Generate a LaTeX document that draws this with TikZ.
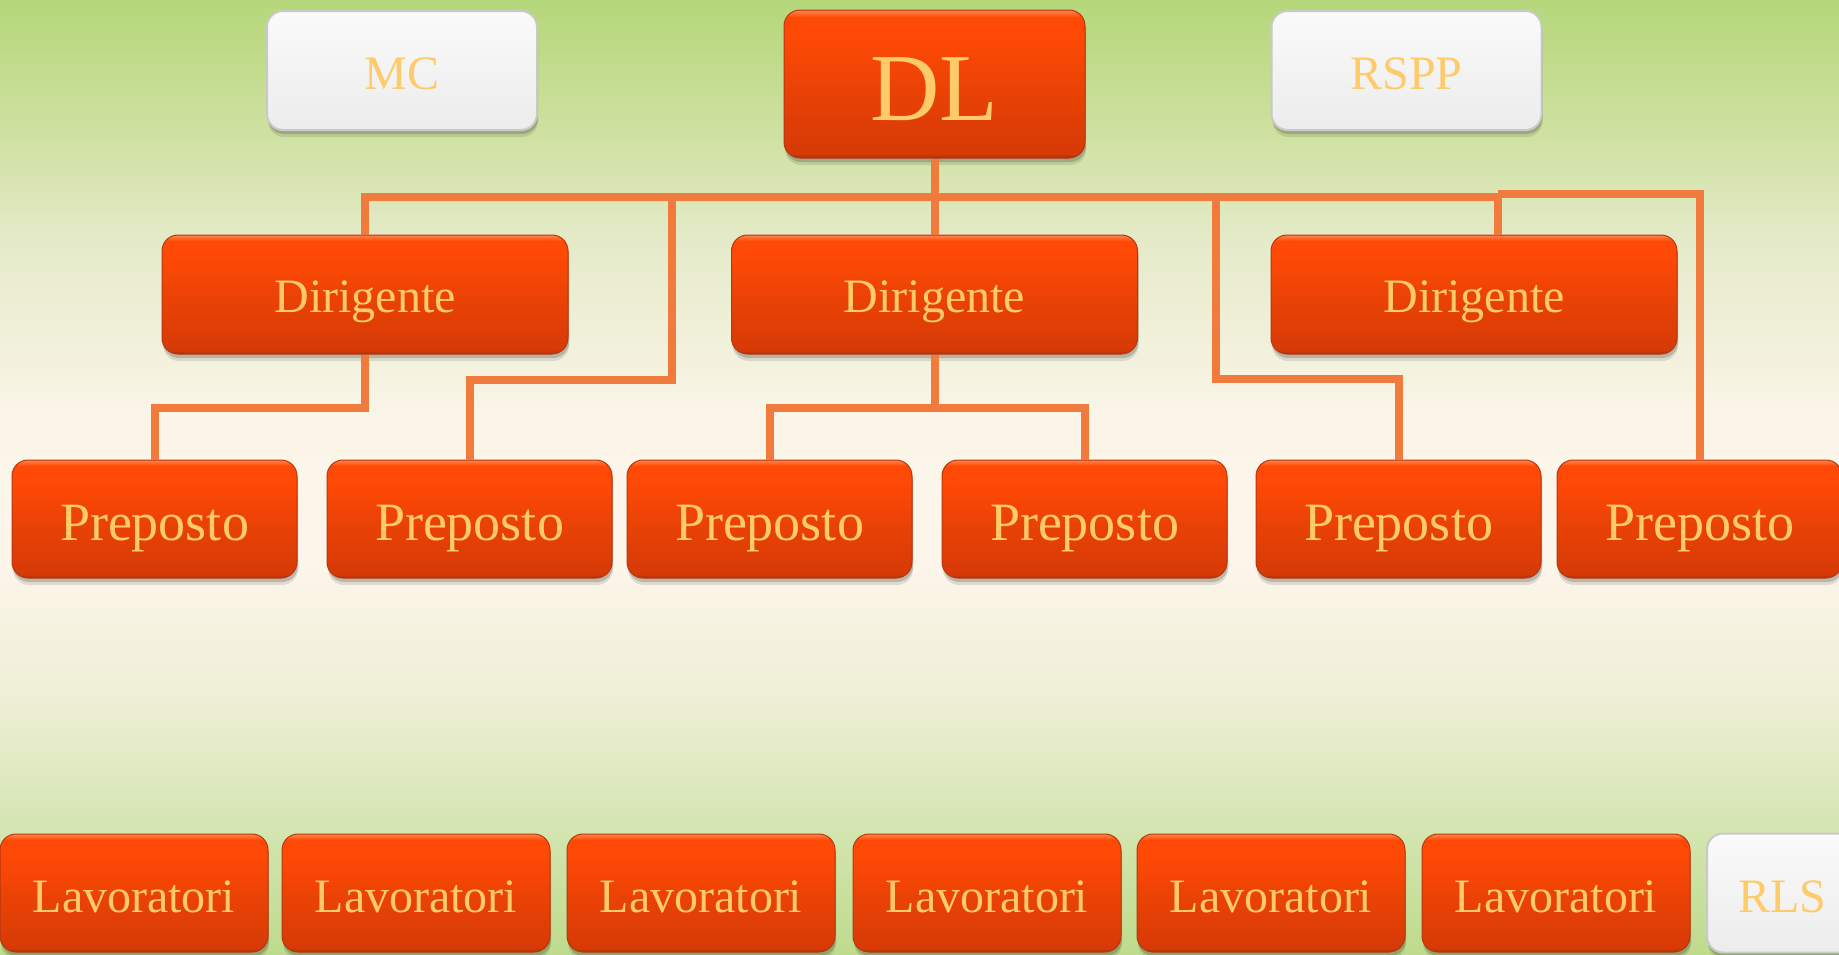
\documentclass[tikz,border=0pt]{standalone}
\usepackage{fontspec}
\setmainfont{Liberation Serif}
\usetikzlibrary{shadows}

% palette
\definecolor{lineor}{HTML}{F17A3D}
\definecolor{txtgold}{HTML}{FFCB6A}
\definecolor{bgA}{HTML}{B5D77A}
\definecolor{bgB}{HTML}{C8DE95}
\definecolor{bgC}{HTML}{E6EBCB}
\definecolor{bgD}{HTML}{FBF5E8}
\definecolor{bgE}{HTML}{FDF5EA}
\definecolor{bgF}{HTML}{EEEFD6}
\definecolor{bgG}{HTML}{D6E6B3}
\definecolor{bgH}{HTML}{BEDB8C}
\definecolor{orRimB}{HTML}{A8300C}
\definecolor{orBot}{HTML}{D63A07}
\definecolor{orMid}{HTML}{EC4306}
\definecolor{orTop}{HTML}{FF4906}
\definecolor{orHi}{HTML}{FF6A2A}
\definecolor{orRimT}{HTML}{FF8450}
\definecolor{orEdge}{HTML}{B8360C}
\definecolor{wtBot}{HTML}{ECECEC}
\definecolor{wtTop}{HTML}{FAFAFA}
\definecolor{wtEdge}{HTML}{C9C9C9}

% page background: green at top and bottom, cream in the middle
\pgfdeclareverticalshading{bgshade}{100bp}{%
  color(0bp)=(bgH); color(25bp)=(bgH); color(32bp)=(bgG); color(38.3bp)=(bgF);
  color(45.6bp)=(bgE); color(53bp)=(bgD); color(61.9bp)=(bgC);
  color(69.8bp)=(bgB); color(75bp)=(bgA); color(100bp)=(bgA)}

% glossy orange box
\pgfdeclareverticalshading{orshade}{100bp}{%
  color(0bp)=(orRimB); color(25bp)=(orRimB); color(26.5bp)=(orBot);
  color(50bp)=(orMid); color(66bp)=(orTop); color(72.5bp)=(orTop);
  color(73.8bp)=(orHi); color(75bp)=(orRimT); color(100bp)=(orRimT)}

% light grey box
\pgfdeclareverticalshading{wtshade}{100bp}{%
  color(0bp)=(wtBot); color(25bp)=(wtBot); color(75bp)=(wtTop); color(100bp)=(wtTop)}

\tikzset{
  boxbase/.style={rounded corners=16pt, inner sep=0pt, text=txtgold,
    general shadow={shadow xshift=1pt, shadow yshift=-7pt, opacity=0.10, fill=black},
    drop shadow={shadow xshift=1pt, shadow yshift=-4pt, opacity=0.22, fill=black!80}},
  orbox/.style={boxbase, shading=orshade, draw=orEdge, line width=1pt},
  wtbox/.style={boxbase, shading=wtshade, draw=wtEdge, line width=2pt},
  dirbox/.style={orbox, minimum width=406pt, minimum height=119pt,
    font=\fontsize{48}{48}\selectfont, text height=35pt, text depth=0pt},
  prebox/.style={orbox, minimum width=285pt, minimum height=118pt,
    font=\fontsize{54}{54}\selectfont, text height=42pt, text depth=0pt},
  lavbox/.style={orbox, minimum width=268pt, minimum height=118pt,
    font=\fontsize{48}{48}\selectfont, text height=38pt, text depth=0pt},
  sidebox/.style={wtbox, minimum width=270pt, minimum height=119pt,
    font=\fontsize{48}{48}\selectfont, text height=38pt, text depth=0pt},
  link/.style={draw=lineor, line width=8pt}
}

\begin{document}
\begin{tikzpicture}[x=1pt, y=-1pt]
  \useasboundingbox (0,0) rectangle (1839,954);
  \fill[shading=bgshade] (0,0) rectangle (1839,954);

  % top level
  \node[sidebox] (mc) at (402,70.5) {MC};
  \node[orbox, minimum width=301pt, minimum height=148pt,
        font=\fontsize{96}{96}\selectfont, text height=72pt, text depth=0pt]
        (dl) at (934.5,84) {DL};
  \node[sidebox] (rspp) at (1406.5,70.5) {RSPP};

  % managers
  \node[dirbox] (d1) at (365,294.5) {Dirigente};
  \node[dirbox] (d2) at (934.5,294.5) {Dirigente};
  \node[dirbox] (d3) at (1474,294.5) {Dirigente};

  % supervisors
  \node[prebox] (p1) at (154.5,519) {Preposto};
  \node[prebox] (p2) at (469.5,519) {Preposto};
  \node[prebox] (p3) at (769.5,519) {Preposto};
  \node[prebox] (p4) at (1084.5,519) {Preposto};
  \node[prebox] (p5) at (1398.5,519) {Preposto};
  \node[prebox] (p6) at (1699.5,519) {Preposto};

  % workers
  \node[lavbox] (l1) at (134,893) {Lavoratori};
  \node[lavbox] (l2) at (416,893) {Lavoratori};
  \node[lavbox] (l3) at (701,893) {Lavoratori};
  \node[lavbox] (l4) at (987,893) {Lavoratori};
  \node[lavbox] (l5) at (1271,893) {Lavoratori};
  \node[lavbox] (l6) at (1556,893) {Lavoratori};
  \node[sidebox, minimum width=151pt] (rls) at (1782.5,893) {RLS};

  % junctions on the main bus
  \coordinate (j2) at (672,197);
  \coordinate (j5) at (1216,197);
  \coordinate (j3) at (1498,197);
  \coordinate (j6) at (1498,194);

  % connectors
  \draw[link] (dl.south) -- (d2.north);
  \draw[link] (d1.north) |- (j3) -- (j3 |- d3.north);
  \draw[link] (j2) -- ++(0,183) -| (p2.north);
  \draw[link] (d1.south) -- ++(0,53) -| (p1.north);
  \draw[link] (d2.south) -- ++(0,53) coordinate (m2) -| (p3.north);
  \draw[link] (m2) -| (p4.north);
  \draw[link] (j5) -- ++(0,182) -| (p5.north);
  \draw[link] (j6) -| (p6.north);
\end{tikzpicture}
\end{document}
